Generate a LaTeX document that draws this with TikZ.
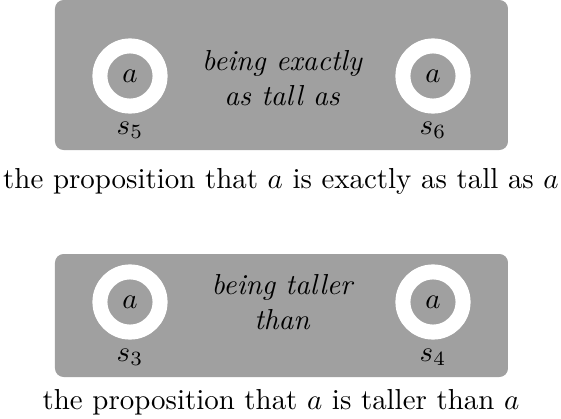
\documentclass[tikz,border=0pt]{standalone}
\usepackage{tikz}
\definecolor{SlotGray}{RGB}{160,160,160}

\tikzset{
  propbox/.style={fill=SlotGray, rounded corners=3pt},
  slotring/.style={circle, draw=white, line width=5.2pt, fill=SlotGray,
    minimum size=20.8pt, inner sep=0pt},
  relname/.style={font=\itshape, align=center, inner sep=0pt},
}

\begin{document}
\begin{tikzpicture}[x=0.346pt, y=-0.346pt]
  \useasboundingbox (0,0) rectangle (561,419);

  % exactly as tall as
  \fill[propbox] (55,0) rectangle (508,150);
  \node[slotring] (r5) at (130,76) {$a$};
  \node[slotring] (r6) at (433,76) {$a$};
  \node[relname] (tall) at (282,78) {being exactly\\as tall as};
  \node (s5) at (130,130) {$s_5$};
  \node (s6) at (433,130) {$s_6$};
  \node (cap56) at (281,181) {the proposition that $a$ is exactly as tall as $a$};

  % taller than
  \fill[propbox] (55,254) rectangle (508,377);
  \node[slotring] (r3) at (130,302) {$a$};
  \node[slotring] (r4) at (433,302) {$a$};
  \node[relname] (taller) at (282,302) {being taller\\than};
  \node (s3) at (130,357) {$s_3$};
  \node (s4) at (433,357) {$s_4$};
  \node (cap34) at (281,402) {the proposition that $a$ is taller than $a$};
\end{tikzpicture}
\end{document}
